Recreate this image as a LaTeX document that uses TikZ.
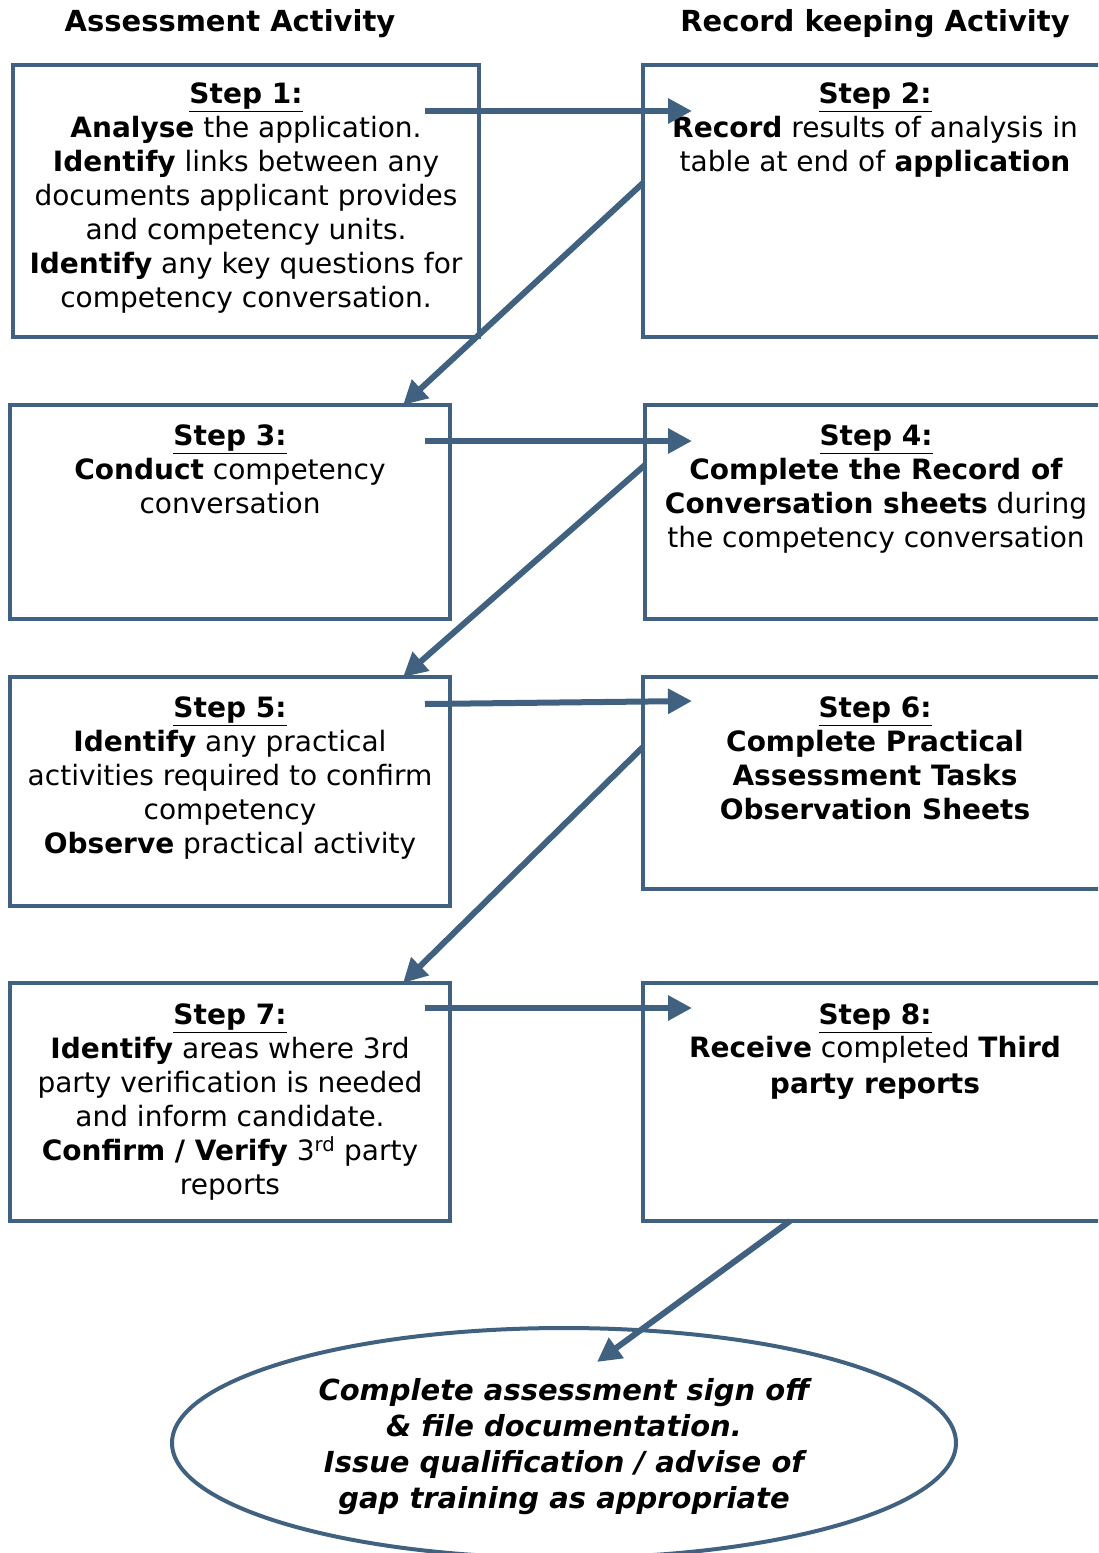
\documentclass[tikz,border=0pt]{standalone}
\usepackage{fontspec}
\setmainfont{DejaVu Sans}
\usetikzlibrary{shapes.geometric, arrows.meta, positioning}
\definecolor{flowblue}{RGB}{64,98,128}

\begin{document}
\begin{tikzpicture}[
    x=1pt, y=-1pt,
    stepbox/.style={rectangle, draw=flowblue, line width=4pt, inner sep=0pt, outer sep=0pt},
    steptext/.style={align=center, inner sep=0pt, font=\fontsize{28}{34}\selectfont},
    headtext/.style={font=\fontsize{29}{34}\selectfont\bfseries},
    endbox/.style={ellipse, draw=flowblue, line width=4pt, outer sep=0pt, minimum width=784pt, minimum height=230pt, align=center, font=\fontsize{29}{36}\selectfont\bfseries\itshape},
    arr/.style={-{Triangle[length=24pt, width=24pt]}, draw=flowblue, line width=6pt}
]
    \clip (0,0) rectangle (1098,1553);

    % Headings
    \node[headtext] (hleft) at (230,24) {Assessment Activity};
    \node[headtext] (hright) at (875,24) {Record keeping Activity};

    % Boxes
    \node[stepbox, minimum width=466pt, minimum height=272pt] (s1) at (246,201) {};
    \node[stepbox, minimum width=464pt, minimum height=272pt] (s2) at (875,201) {};
    \node[stepbox, minimum width=440pt, minimum height=214pt] (s3) at (230,512) {};
    \node[stepbox, minimum width=462pt, minimum height=214pt] (s4) at (876,512) {};
    \node[stepbox, minimum width=440pt, minimum height=229pt] (s5) at (230,791.5) {};
    \node[stepbox, minimum width=464pt, minimum height=212pt] (s6) at (875,783) {};
    \node[stepbox, minimum width=440pt, minimum height=238pt] (s7) at (230,1102) {};
    \node[stepbox, minimum width=464pt, minimum height=238pt] (s8) at (875,1102) {};
    \node[endbox] (fin) at (564,1443) {};
    \node[align=center, font=\fontsize{29}{36}\selectfont\bfseries\itshape, yshift=-4pt] (fintext) at (fin.center) {Complete assessment sign off\\ \& file documentation.\\ Issue qualification / advise of\\ gap training as appropriate};

    % Box texts
    \node[steptext, below=18pt of s1.north] (t1) {\underline{\textbf{Step 1:}}\\ \textbf{Analyse} the application.\\ \textbf{Identify} links between any\\ documents applicant provides\\ and competency units.\\ \textbf{Identify} any key questions for\\ competency conversation.};
    \node[steptext, below=18pt of s2.north] (t2) {\underline{\textbf{Step 2:}}\\ \textbf{Record} results of analysis in\\ table at end of \textbf{application}};
    \node[steptext, below=20pt of s3.north] (t3) {\underline{\textbf{Step 3:}}\\ \textbf{Conduct} competency\\ conversation};
    \node[steptext, below=20pt of s4.north] (t4) {\underline{\textbf{Step 4:}}\\ \textbf{Complete the Record of}\\ \textbf{Conversation sheets} during\\ the competency conversation};
    \node[steptext, below=20pt of s5.north] (t5) {\underline{\textbf{Step 5:}}\\ \textbf{Identify} any practical\\ activities required to confirm\\ competency\\ \textbf{Observe} practical activity};
    \node[steptext, below=20pt of s6.north] (t6) {\underline{\textbf{Step 6:}}\\ \textbf{Complete Practical}\\ \textbf{Assessment Tasks}\\ \textbf{Observation Sheets}};
    \node[steptext, below=21pt of s7.north] (t7) {\underline{\textbf{Step 7:}}\\ \textbf{Identify} areas where 3rd\\ party verification is needed\\ and inform candidate.\\ \textbf{Confirm / Verify} 3\textsuperscript{rd} party\\ reports};
    \node[steptext, below=21pt of s8.north, font=\fontsize{28}{36}\selectfont] (t8) {\underline{\textbf{Step 8:}}\\[-3pt] \textbf{Receive} completed \textbf{Third}\\ \textbf{party reports}};

    % Arrows
    \draw[arr] ([shift={(-54pt,-46pt)}]s1.north east) -- ([shift={(49pt,-46pt)}]s2.north west);
    \draw[arr] ([yshift=18pt]s2.west) -- ([xshift=-47pt]s3.north east);
    \draw[arr] ([shift={(-25pt,-36pt)}]s3.north east) -- ([shift={(47pt,-36pt)}]s4.north west);
    \draw[arr] ([yshift=47pt]s4.west) -- ([xshift=-47pt]s5.north east);
    \draw[arr] ([shift={(-25pt,-27pt)}]s5.north east) -- ([shift={(49pt,-24pt)}]s6.north west);
    \draw[arr] ([yshift=36pt]s6.west) -- ([xshift=-47pt]s7.north east);
    \draw[arr] ([shift={(-25pt,-25pt)}]s7.north east) -- ([shift={(49pt,-25pt)}]s8.north west);
    \draw[arr] ([xshift=-85pt]s8.south) -- ([shift={(33pt,-34pt)}]fin.north);
\end{tikzpicture}
\end{document}
